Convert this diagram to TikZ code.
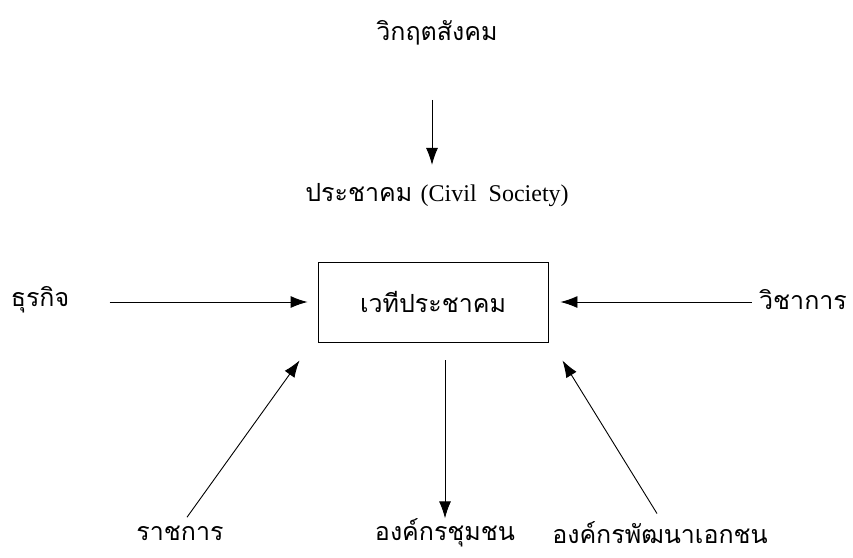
\documentclass[tikz,border=0pt]{standalone}
\usepackage{fontspec}
\setmainfont{Liberation Serif}
\newfontfamily\thaifont[Script=Thai]{Loma}
\usetikzlibrary{arrows.meta}

\begin{document}
\begin{tikzpicture}[x=1pt,y=-1pt,>={Latex[length=17pt,width=12pt]}]
    \tikzstyle{every node}=[font=\thaifont\fontsize{25}{28}\selectfont,inner sep=2pt];
    \tikzstyle{every path}=[line width=0.9pt];
    \useasboundingbox (0,0) rectangle (853,557);

    \node at (437,33)  (crisis) {วิกฤตสังคม};
    \node at (437,195) (civil) {ประชาคม {\rmfamily\fontsize{24}{28}\selectfont (Civil\ \ Society)}};
    \node at (433,302) (forum) [draw,minimum width=230pt,minimum height=80pt] {เวทีประชาคม};

    \node at (40,300)  (business) {ธุรกิจ};
    \node at (803,300) (academic) {วิชาการ};
    \node at (180,533) (gov) {ราชการ};
    \node at (445,533) (community) {องค์กรชุมชน};
    \node at (660,533) (ngo) {องค์กรพัฒนาเอกชน};

    % crisis -> civil society
    \draw[->] ([xshift=-5pt,yshift=-52pt]crisis.south) -- ([xshift=-5pt,yshift=16pt]civil.north);

    % into the forum
    \draw[->] ([shift={(38pt,-2pt)}]business.east) -- ([xshift=-10pt]forum.west);
    \draw[->] ([shift={(-5pt,-2pt)}]academic.west) -- ([xshift=12pt]forum.east);
    \draw[->] ([shift={(7pt,6pt)}]gov.north) -- ([shift={(-18pt,-18pt)}]forum.south west);
    \draw[->] ([shift={(-3pt,6pt)}]ngo.north) -- ([shift={(14pt,-18pt)}]forum.south east);

    % out of the forum
    \draw[->] ([xshift=12pt,yshift=-18pt]forum.south) -- ([yshift=-2pt]community.north);
\end{tikzpicture}
\end{document}
